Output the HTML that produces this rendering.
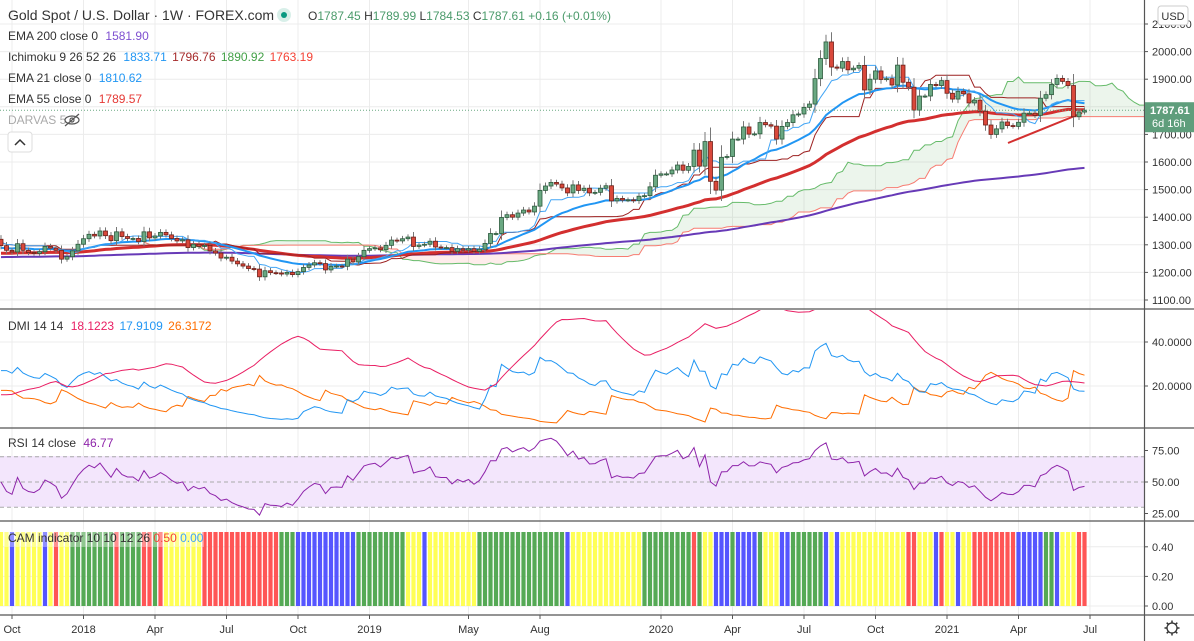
<!DOCTYPE html>
<html><head><meta charset="utf-8"><style>
html,body{margin:0;padding:0;background:#fff;overflow:hidden}
svg{display:block;font-family:"Liberation Sans",sans-serif}
</style></head><body>
<svg id="c" width="1194" height="641" viewBox="0 0 1194 641">
<defs>
<clipPath id="cpMain"><rect x="0" y="0" width="1144" height="309"/></clipPath>
<clipPath id="cpDmi"><rect x="0" y="310" width="1144" height="118"/></clipPath>
<clipPath id="cpRsi"><rect x="0" y="429" width="1144" height="92"/></clipPath>
</defs>
<g id="grid"></g>
<rect x="0" y="456" width="1144" height="51" fill="#f3e6fc"/>
<g id="cloud" clip-path="url(#cpMain)"></g>
<g id="lines" clip-path="url(#cpMain)"></g>
<g id="candles" clip-path="url(#cpMain)"></g>
<g id="dmi" clip-path="url(#cpDmi)"></g>
<g id="rsi" clip-path="url(#cpRsi)"></g>
<g id="cam"></g>
<g id="axes"></g>
<g font-size="12" fill="#333">
<text x="8" y="20" font-size="14" fill="#333">Gold Spot / U.S. Dollar · 1W · FOREX.com</text>
<circle cx="284" cy="15" r="7" fill="#d8efe9"/><circle cx="284" cy="15" r="3" fill="#089981"/>
<text x="308" y="20"><tspan fill="#333">O</tspan><tspan fill="#4a9a6a">1787.45 </tspan><tspan fill="#333">H</tspan><tspan fill="#4a9a6a">1789.99 </tspan><tspan fill="#333">L</tspan><tspan fill="#4a9a6a">1784.53 </tspan><tspan fill="#333">C</tspan><tspan fill="#4a9a6a">1787.61 +0.16 (+0.01%)</tspan></text>
<text x="8" y="40">EMA 200 close 0 <tspan fill="#7e4fd0" dx="4">1581.90</tspan></text>
<text x="8" y="61">Ichimoku 9 26 52 26 <tspan fill="#2196f3" dx="4">1833.71</tspan> <tspan fill="#a52a2a" dx="2">1796.76</tspan> <tspan fill="#43a047" dx="2">1890.92</tspan> <tspan fill="#f44336" dx="2">1763.19</tspan></text>
<text x="8" y="82">EMA 21 close 0 <tspan fill="#2196f3" dx="4">1810.62</tspan></text>
<text x="8" y="103">EMA 55 close 0 <tspan fill="#e53935" dx="4">1789.57</tspan></text>
<text x="8" y="124" fill="#aaa">DARVAS 5</text>
<g stroke="#555" fill="none" stroke-width="1.2"><ellipse cx="72" cy="120" rx="7" ry="4"/><circle cx="72" cy="120" r="2"/><line x1="65" y1="126" x2="79" y2="114"/></g>
<rect x="8" y="132" width="24" height="20" rx="3" fill="#fff" stroke="#ddd"/>
<path d="M15 145 L20 140 L25 145" fill="none" stroke="#333" stroke-width="1.5"/>
<text x="8" y="330">DMI 14 14 <tspan fill="#e91e63" dx="4">18.1223</tspan> <tspan fill="#2196f3" dx="2">17.9109</tspan> <tspan fill="#ff6d00" dx="2">26.3172</tspan></text>
<text x="8" y="447">RSI 14 close <tspan fill="#8e24aa" dx="4">46.77</tspan></text>
</g>
<g id="camleg"></g>
</svg>
<script>
// ---- data: weekly closes, Sep 2017 - Jun 2021 ----
const closes = [1297,1280,1274,1304,1280,1272,1269,1275,1294,1288,1280,1248,1257,1278,1302,
1322,1338,1332,1350,1333,1315,1347,1330,1323,1323,1312,1347,1325,1332,1345,1336,1323,1314,1318,1290,1302,1294,1298,1278,1270,1252,1255,1241,1231,1223,1214,1212,1184,1206,1199,1198,1194,1200,1192,1203,1218,1227,1235,1232,1209,1222,1223,1222,1248,1238,1257,1280,
1286,1289,1282,1298,1317,1314,1322,1328,1294,1299,1302,1313,1292,1290,1290,1276,1286,1281,1286,1276,1284,1305,1341,1341,1399,1409,1400,1415,1426,1419,1440,1497,1513,1526,1520,1506,1488,1517,1497,1505,1488,1490,1505,1514,1459,1468,1462,1463,1460,1476,1478,1510,
1552,1557,1557,1571,1589,1570,1584,1643,1585,1674,1530,1498,1617,1620,1683,1683,1727,1701,1702,1743,1735,1730,1683,1729,1743,1771,1774,1798,1810,1902,1975,2035,1944,1940,1964,1934,1940,1950,1861,1900,1930,1899,1902,1879,1951,1889,1871,1788,1839,1839,1881,1877,
1895,1849,1828,1856,1847,1814,1824,1784,1734,1700,1720,1745,1732,1729,1744,1777,1777,1769,1831,1844,1881,1903,1892,1877,1764,1781,1787.61];
const firstOpen = 1320;
const priceTicks = [1100,1200,1300,1400,1500,1600,1700,1800,1900,2000,2100];
const dmiTicks = [20,40];
const rsiTicks = [25,50,75];
const camTicks = [0,0.2,0.4];
const timeLabels = ["Oct","2018","Apr","Jul","Oct","2019","May","Aug","2020","Apr","Jul","Oct","2021","Apr","Jul"];
const timeLabelBars = [2,15,28,41,54,67,85,98,120,133,146,159,172,185,198];
const camRuns = [["Y",2],["B",1],["Y",5],["B",1],["Y",1],["R",1],["Y",2],["G",8],["R",1],["G",4],["R",2],["G",1],["R",1],["Y",7],["R",14],["G",3],["B",11],["G",9],["Y",3],["B",1],["Y",9],["G",16],["B",1],["Y",13],["G",9],["R",1],["G",1],["Y",2],["B",3],["G",1],["B",4],["G",1],["Y",3],["B",2],["G",6],["B",1],["Y",1],["B",1],["Y",12],["R",2],["Y",3],["B",1],["R",1],["Y",2],["B",1],["Y",2],["R",8],["B",5],["G",2],["B",1],["Y",3],["R",2]];
const camValue = 0.5;

const NS="http://www.w3.org/2000/svg";
function mk(tag,attrs,parent){const e=document.createElementNS(NS,tag);for(const k in attrs)e.setAttribute(k,attrs[k]);parent.appendChild(e);return e;}
const N=closes.length;
const X0=1, DX=5.5;
const xAt=i=>X0+i*DX;
const yP=p=>300-(p-1100)*0.276;
const yD=v=>386-(v-20)*2.2;
const yR=v=>482-(v-50)*1.26;
const yC=v=>606-v*148;

// OHLC derivation
const O=[],H=[],L=[];
for(let i=0;i<N;i++){const o=i?closes[i-1]:firstOpen;const c=closes[i];O.push(o);const w=8+0.3*Math.abs(c-o);H.push(Math.max(o,c)+w);L.push(Math.min(o,c)-w*0.9);}

// EMAs
function ema(n,seed){const k=2/(n+1);let v=seed;return closes.map(c=>(v=v+k*(c-v)));}
const e200=ema(200,1255), e55=ema(55,1268), e21=ema(21,1288);
function mid(i,n){let hh=-1e9,ll=1e9;for(let j=Math.max(0,i-n+1);j<=i;j++){hh=Math.max(hh,H[j]);ll=Math.min(ll,L[j]);}return (hh+ll)/2;}
const conv=[],base=[],spA=[],spB=[];
for(let i=0;i<N;i++){conv.push(mid(i,9));base.push(mid(i,26));spA.push((conv[i]+base[i])/2);spB.push(mid(i,52));}

const grid=document.getElementById('grid');
const gAx=document.getElementById('axes');
timeLabelBars.forEach(b=>{const l=mk('line',{x1:xAt(b),x2:xAt(b),y1:0,y2:615,stroke:'#ececec'},grid);});
priceTicks.forEach(p=>{mk('line',{x1:0,x2:1144,y1:yP(p),y2:yP(p),stroke:'#ececec'},grid);});
dmiTicks.forEach(v=>mk('line',{x1:0,x2:1144,y1:yD(v),y2:yD(v),stroke:'#ececec'},grid));
camTicks.forEach(v=>mk('line',{x1:0,x2:1144,y1:yC(v),y2:yC(v),stroke:'#ececec'},grid));

function path(arr,yf,off,attrs,parent,name){let d='';arr.forEach((v,i)=>{if(v==null)return;d+=(d?'L':'M')+xAt(i+off).toFixed(1)+' '+yf(v).toFixed(1);});const p=mk('path',Object.assign({d:d,fill:'none'},attrs),parent);return p;}

// cloud
const cl=document.getElementById('cloud');
for(let i=0;i<N-1;i++){const a1=spA[i],a2=spA[i+1],b1=spB[i],b2=spB[i+1];const up=(a1+a2)>=(b1+b2);
const poly=mk('polygon',{points:`${xAt(i+26)},${yP(a1)} ${xAt(i+27)},${yP(a2)} ${xAt(i+27)},${yP(b2)} ${xAt(i+26)},${yP(b1)}`,fill:up?'rgba(67,160,71,0.1)':'rgba(244,67,54,0.1)'},cl);
}
const lg=document.getElementById('lines');
path(spA,yP,26,{stroke:'#66bb6a','stroke-width':1},lg,'leading-span-a');
path(spB,yP,26,{stroke:'#f77c72','stroke-width':1},lg,'leading-span-b');
path(e200,yP,0,{stroke:'#673ab7','stroke-width':2},lg,'ema-200');
path(e55,yP,0,{stroke:'#d32f2f','stroke-width':3},lg,'ema-55');
path(base,yP,0,{stroke:'#9c2020','stroke-width':1},lg,'ichimoku-base-line');
path(e21,yP,0,{stroke:'#2196f3','stroke-width':2},lg,'ema-21');
path(conv,yP,0,{stroke:'#42a5f5','stroke-width':1},lg,'ichimoku-conversion-line');
const tl=mk('line',{x1:1008,y1:143,x2:1082,y2:113,stroke:'#d32f2f','stroke-width':2},lg);

// candles
const cg=document.getElementById('candles');
for(let i=0;i<N;i++){const up=closes[i]>=O[i];const x=xAt(i);
const w=mk('line',{x1:x,x2:x,y1:yP(H[i]),y2:yP(L[i]),stroke:'#777','stroke-width':1},cg);

const t=yP(Math.max(O[i],closes[i])),b=yP(Math.min(O[i],closes[i]));
const r=mk('rect',{x:x-2,y:t,width:4,height:Math.max(1,b-t),fill:up?'#6aa882':'#d9483b',stroke:up?'#2c5a3d':'#6e1f18','stroke-width':0.8},cg);
}
const pl=mk('line',{x1:0,x2:1144,y1:yP(closes[N-1]),y2:yP(closes[N-1]),stroke:'#6aa882','stroke-dasharray':'1 2'},gAx);


// DMI
const pDI=[],mDI=[],ADX=[];let sTR=0,sP=0,sM=0,adx=20;
for(let i=0;i<N;i++){if(i===0){pDI.push(27);mDI.push(18);ADX.push(16);continue;}
const tr=Math.max(H[i]-L[i],Math.abs(H[i]-closes[i-1]),Math.abs(L[i]-closes[i-1]));
const upm=H[i]-H[i-1],dnm=L[i-1]-L[i];const pm=(upm>dnm&&upm>0)?upm:0,mm=(dnm>upm&&dnm>0)?dnm:0;
if(i===1){sTR=tr*14;sP=sTR*0.27;sM=sTR*0.18;}else{sTR=sTR-sTR/14+tr;sP=sP-sP/14+pm;sM=sM-sM/14+mm;}
const p=100*sP/sTR,m=100*sM/sTR;const dx=100*Math.abs(p-m)/Math.max(1e-6,p+m);adx=i===1?16:adx+(dx-adx)/14;
pDI.push(p);mDI.push(m);ADX.push(adx);}
const dg=document.getElementById('dmi');
path(mDI,yD,0,{stroke:'#ff6d00','stroke-width':1},dg,'dmi-minus-di');
path(pDI,yD,0,{stroke:'#2196f3','stroke-width':1},dg,'dmi-plus-di');
path(ADX,yD,0,{stroke:'#e91e63','stroke-width':1},dg,'dmi-adx');

// RSI
const RSI=[];let ag=4,al=4;
for(let i=0;i<N;i++){const ch=i?closes[i]-closes[i-1]:0;ag=(ag*13+Math.max(ch,0))/14;al=(al*13+Math.max(-ch,0))/14;RSI.push(100-100/(1+ag/Math.max(al,1e-6)));}
const rg=document.getElementById('rsi');
[30,50,70].forEach(v=>{const l=mk('line',{x1:0,x2:1144,y1:yR(v),y2:yR(v),stroke:'#aaa','stroke-dasharray':'4 3'},rg);});
path(RSI,yR,0,{stroke:'#8e24aa','stroke-width':1},rg,'rsi-line');

// CAM
const camCodes=[];camRuns.forEach(r=>{for(let k=0;k<r[1];k++)camCodes.push(r[0]);});
const camCol={Y:'#ffff55',G:'#55a955',B:'#5555ff',R:'#ff5555'};
const cmg=document.getElementById('cam');
camCodes.forEach((c,i)=>{if(i>=N)return;const r=mk('rect',{x:xAt(i)-2.1,y:yC(camValue),width:4.2,height:yC(0)-yC(camValue),fill:camCol[c]},cmg);
});
const camleg=document.getElementById('camleg');
mk('rect',{x:4,y:529,width:200,height:18,fill:'rgba(255,255,255,0.35)'},camleg);
const ct=mk('text',{x:8,y:542,'font-size':12,fill:'#333'},camleg);ct.textContent='CAM indicator 10 10 12 26 ';
const ct2=mk('tspan',{fill:'#f44336'},ct);ct2.textContent='0.50 ';
const ct3=mk('tspan',{fill:'#42a5f5'},ct);ct3.textContent='0.00';

// axes & separators
[309,428,521,615].forEach(y=>{const l=mk('line',{x1:0,x2:1194,y1:y,y2:y,stroke:'#555','stroke-width':1.2},gAx);});
const va=mk('line',{x1:1144.5,x2:1144.5,y1:0,y2:641,stroke:'#555','stroke-width':1.2},gAx);
function tick(y,label,name){mk('line',{x1:1144,x2:1148,y1:y,y2:y,stroke:'#555'},gAx);const t=mk('text',{x:1152,y:y+4,'font-size':11,fill:'#333'},gAx);t.textContent=label;}
priceTicks.forEach(p=>tick(yP(p),p.toFixed(2),'price-tick'));
dmiTicks.forEach(v=>tick(yD(v),v.toFixed(4),'dmi-tick'));
rsiTicks.forEach(v=>tick(yR(v),v.toFixed(2),'rsi-tick'));
camTicks.forEach(v=>tick(yC(v),v.toFixed(2),'cam-tick'));
timeLabels.forEach((s,k)=>{const x=xAt(timeLabelBars[k]);mk('line',{x1:x,x2:x,y1:615,y2:619,stroke:'#555'},gAx);const t=mk('text',{x:x,y:633,'font-size':11,fill:'#333','text-anchor':'middle'},gAx);t.textContent=s;});
const ub=mk('rect',{x:1158,y:6,width:30,height:19,rx:3,fill:'#fff',stroke:'#ccc'},gAx);
const ut=mk('text',{x:1173,y:20,'font-size':11,fill:'#333','text-anchor':'middle'},gAx);ut.textContent='USD';
const ly=yP(closes[N-1]);
const lb=mk('rect',{x:1145,y:ly-8,width:49,height:30,fill:'#5f9e7c'},gAx);
const lt=mk('text',{x:1150,y:ly+4,'font-size':11,'font-weight':'bold',fill:'#fff'},gAx);lt.textContent=closes[N-1].toFixed(2);
const lt2=mk('text',{x:1152,y:ly+17,'font-size':11,fill:'#fff'},gAx);lt2.textContent='6d 16h';
const gear=mk('g',{},gAx);
mk('circle',{cx:1172,cy:628,r:5,fill:'none',stroke:'#333','stroke-width':1.3},gear);
for(let a=0;a<8;a++){const an=a*Math.PI/4;mk('line',{x1:1172+5*Math.cos(an),y1:628+5*Math.sin(an),x2:1172+7.5*Math.cos(an),y2:628+7.5*Math.sin(an),stroke:'#333','stroke-width':1.5},gear);}
</script>
</body></html>
